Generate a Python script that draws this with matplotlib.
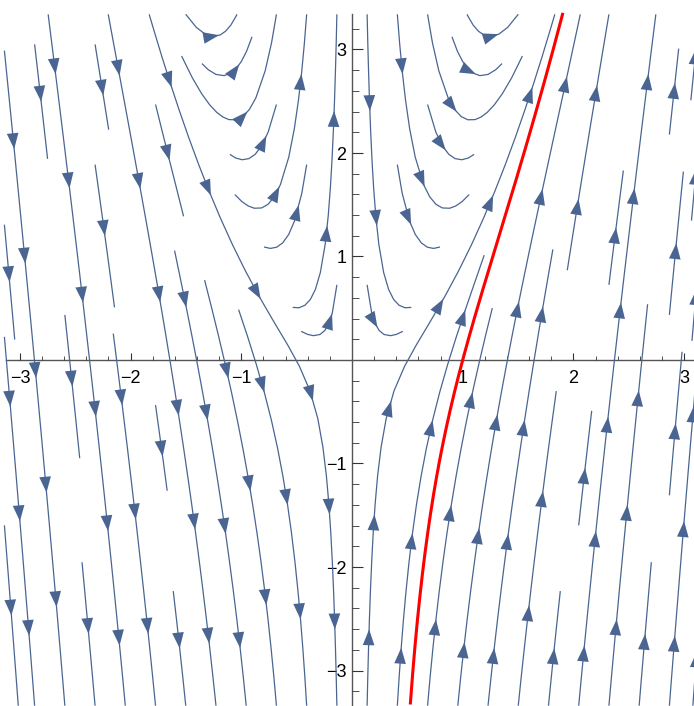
import numpy as np
import matplotlib.pyplot as plt
from matplotlib.patches import FancyArrowPatch
from matplotlib.ticker import FixedLocator

# slope field  y' = a*x + b*y/x   (x y' + 2 y = 4 x^2)
a_coef = 4.0
b_coef = -2.0
# solution through (1, 0):  y = x^2 + c/x^2
c_red = -1.0

x_range = [-3.14, 3.14]
y_range = [-3.34, 3.34]
major_ticks = [-3, -2, -1, 1, 2, 3]
tick_labels = ['\u22123', '\u22122', '\u22121', '1', '2', '3']

stream_color = '#4a6591'
px_x, px_y = 110.7, 103.5   # pixels per unit

fig = plt.figure(figsize=(6.94, 7.06), dpi=100)
ax = fig.add_axes([0, 0, 1, 1])
ax.set_xlim(-352 / px_x, 342 / px_x)
ax.set_ylim(-346 / px_y, 360 / px_y)

X, Y = np.meshgrid(np.linspace(*x_range, 240), np.linspace(*y_range, 240))
S = a_coef * X + b_coef * Y / X
N = np.hypot(1, S)
U, V = 1 / N, S / N

sp = ax.streamplot(X, Y, U, V, density=0.8, color=stream_color,
                   linewidth=0.9, arrowsize=0.01, zorder=2)
for p in list(ax.patches):
    p.remove()

# rebuild the streamlines and put arrowheads along them
segs = sp.lines.get_segments()
chains = []
cur = None
for s in segs:
    s = np.asarray(s)
    if cur is not None and np.allclose(s[0], cur[-1]):
        cur.extend(s[1:])
    else:
        cur = list(s)
        chains.append(cur)

spacing = 115.0
for ch in chains:
    pts = np.array(ch)
    pix = pts * [px_x, px_y]
    d = np.hypot(*np.diff(pix, axis=0).T)
    cum = np.concatenate([[0], np.cumsum(d)])
    L = cum[-1]
    if L < 20:
        continue
    if L < spacing:
        marks = [L * 0.6]
    else:
        n = int(L // spacing)
        off = (L - (n - 1) * spacing) / 2
        marks = [off + k * spacing for k in range(n)]
    for m in marks:
        tip = np.array([np.interp(m, cum, pts[:, 0]), np.interp(m, cum, pts[:, 1])])
        tail = np.array([np.interp(m - 4, cum, pts[:, 0]), np.interp(m - 4, cum, pts[:, 1])])
        ax.add_patch(FancyArrowPatch(tail, tip,
                                     arrowstyle='-|>,head_length=0.95,head_width=0.35',
                                     mutation_scale=12, color=stream_color, lw=0,
                                     shrinkA=0, shrinkB=0, zorder=3))

# red solution curve
xr = np.linspace(0.45, 2.0, 600)
yr = xr ** 2 + c_red / xr ** 2
keep = np.abs(yr) <= y_range[1]
ax.plot(xr[keep], yr[keep], color='red', lw=2.2, zorder=4)

# Mathematica-like axes through the origin
for side in ['top', 'right']:
    ax.spines[side].set_visible(False)
ax.spines['left'].set_position(('data', 0))
ax.spines['bottom'].set_position(('data', 0))
ax.spines['bottom'].set_bounds(-3.13, 3.14)
ax.spines['left'].set_bounds(y_range[0], y_range[1])
for side in ['left', 'bottom']:
    ax.spines[side].set_color('#555555')
    ax.spines[side].set_linewidth(1.0)
    ax.spines[side].set_zorder(1)

minor = [round(v, 1) for v in np.arange(-3.2, 3.21, 0.2) if abs(v - round(v)) > 1e-6]
ax.set_xticks(major_ticks)
ax.set_xticklabels(tick_labels)
ax.set_yticks(major_ticks)
ax.set_yticklabels(tick_labels)
ax.xaxis.set_minor_locator(FixedLocator([v for v in minor if abs(v) < 3.1]))
ax.yaxis.set_minor_locator(FixedLocator(minor))

ax.tick_params(axis='x', which='major', direction='in', length=5, width=0.8, pad=7,
               colors='#333333', labelsize=13)
ax.tick_params(axis='x', which='minor', direction='in', length=3, width=0.6, colors='#333333')
ax.tick_params(axis='y', which='major', direction='in', length=8, width=0.8, pad=4,
               colors='#333333', labelsize=13)
ax.tick_params(axis='y', which='minor', direction='in', length=5, width=0.6, colors='#333333')
for lab in ax.get_xticklabels() + ax.get_yticklabels():
    lab.set_fontfamily('Liberation Sans')
    lab.set_color('black')

fig.savefig('out.png', dpi=100)
